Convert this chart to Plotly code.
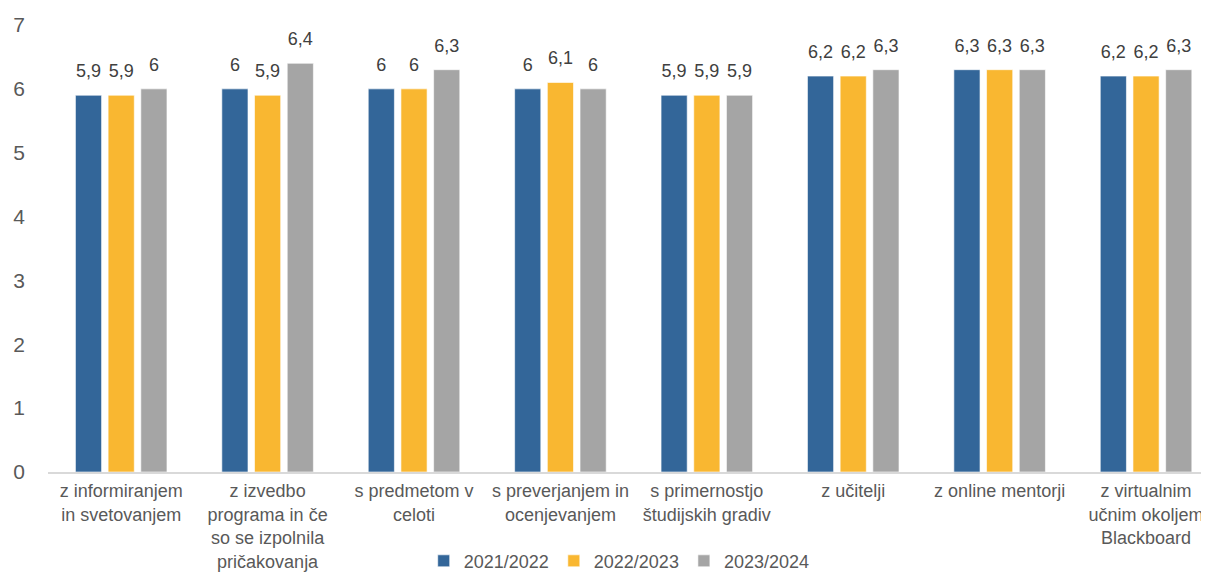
import plotly.graph_objects as go

categories = [
    "z informiranjem<br>in svetovanjem",
    "z izvedbo<br>programa in če<br>so se izpolnila<br>pričakovanja",
    "s predmetom v<br>celoti",
    "s preverjanjem in<br>ocenjevanjem",
    "s primernostjo<br>študijskih gradiv",
    "z učitelji",
    "z online mentorji",
    "z virtualnim<br>učnim okoljem<br>Blackboard",
]
series_names = ["2021/2022", "2022/2023", "2023/2024"]
v2122 = [5.9, 6.0, 6.0, 6.0, 5.9, 6.2, 6.3, 6.2]
v2223 = [5.9, 5.9, 6.0, 6.1, 5.9, 6.2, 6.3, 6.2]
v2324 = [6.0, 6.4, 6.3, 6.0, 5.9, 6.3, 6.3, 6.3]
colors = ["#336699", "#F9B731", "#A5A5A5"]

def fmt(v):
    return ("%g" % v).replace(".", ",")

fig = go.Figure()
for name, vals, col in zip(series_names, [v2122, v2223, v2324], colors):
    fig.add_trace(go.Bar(
        x=categories, y=vals, name=name,
        marker=dict(color=col, line=dict(color="rgba(255,255,255,0.6)", width=1)),
        cliponaxis=False, hoverinfo="y+name",
    ))
# value labels, grouped exactly like the bars
for name, vals in zip(series_names, [v2122, v2223, v2324]):
    fig.add_trace(go.Scatter(
        x=categories, y=vals, mode="markers+text", showlegend=False,
        marker=dict(size=20, opacity=0), hoverinfo="skip",
        text=[fmt(v) for v in vals], textposition="top center",
        textfont=dict(size=18, color="#404040"), cliponaxis=False,
    ))

# page body has an 8px default margin, so the figure is 8px smaller than the window
fig.update_layout(
    width=1201, height=564,
    margin=dict(l=40, r=0, t=17, b=100, autoexpand=False),
    paper_bgcolor="white", plot_bgcolor="white",
    font=dict(family="Liberation Sans, Arial, sans-serif", color="#595959", size=18),
    barmode="group", bargap=0.33, bargroupgap=0.2,
    scattermode="group", scattergap=0.33,
    showlegend=True,
    legend=dict(orientation="h", x=0.492, xanchor="center", y=-0.158, yanchor="top",
                font=dict(size=18, color="#595959"), itemwidth=30, tracegroupgap=0,
                traceorder="normal"),
    xaxis=dict(showline=True, linecolor="#D9D9D9", linewidth=1.5, ticks="",
               tickfont=dict(size=18, color="#595959"), showgrid=False,
               automargin=False, range=[-0.5, 7.43], ticklabelstandoff=2),
    yaxis=dict(range=[0, 7], dtick=1, showgrid=False, showline=False, zeroline=False,
               tickfont=dict(size=21, color="#595959"), ticklabelstandoff=22,
               automargin=False),
)
fig.write_html("out.html")
